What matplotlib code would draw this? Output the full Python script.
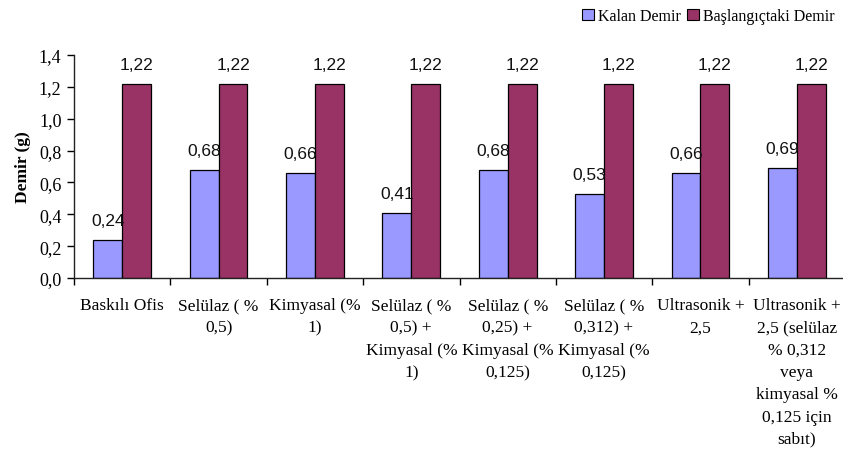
import matplotlib
matplotlib.use("Agg")
import matplotlib.pyplot as plt
from matplotlib.patches import Patch
from matplotlib.ticker import FuncFormatter, MultipleLocator
import numpy as np

categories = [
    "Baskılı Ofis",
    "Selülaz ( %\n0,5)",
    "Kimyasal (%\n1)",
    "Selülaz ( %\n0,5) +\nKimyasal (%\n1)",
    "Selülaz ( %\n0,25) +\nKimyasal (%\n0,125)",
    "Selülaz ( %\n0,312) +\nKimyasal (%\n0,125)",
    "Ultrasonik +\n2,5",
    "Ultrasonik +\n2,5 (selülaz\n% 0,312\nveya\nkimyasal %\n0,125 için\nsabıt)",
]
kalan = [0.24, 0.68, 0.66, 0.41, 0.68, 0.53, 0.66, 0.69]
baslangic = [1.22, 1.22, 1.22, 1.22, 1.22, 1.22, 1.22, 1.22]
series_names = ["Kalan Demir", "Başlangıçtaki Demir"]
y_label = "Demir (g)"

blue = "#9999FF"
purple = "#993366"
serif = ["Liberation Serif", "DejaVu Serif"]
sans = ["Liberation Sans", "DejaVu Sans"]

W, H = 843, 452
fig = plt.figure(figsize=(W / 100, H / 100), dpi=100)
ax = fig.add_axes([74 / W, 1 - 279 / H, 771 / W, 223 / H])

x = np.arange(len(categories))
bw = 0.3
ax.bar(x - bw / 2, kalan, bw, color=blue, edgecolor="black", linewidth=0.9, zorder=2)
ax.bar(x + bw / 2, baslangic, bw, color=purple, edgecolor="black", linewidth=0.9, zorder=2)

def comma(v, nd=2):
    return f"{v:.{nd}f}".replace(".", ",")

for xi, v in zip(x, kalan):
    ax.text(xi - bw / 2, v + 0.075, comma(v), ha="center", va="bottom",
            fontsize=12.5, family=sans, color="#111111", zorder=5)
for xi, v in zip(x, baslangic):
    ax.text(xi + bw / 2, v + 0.075, comma(v), ha="center", va="bottom",
            fontsize=12.5, family=sans, color="#111111", zorder=5)

ax.set_xlim(-0.5, len(categories) - 0.5)
ax.set_ylim(0, 1.4)
ax.yaxis.set_major_locator(MultipleLocator(0.2))
ax.yaxis.set_major_formatter(FuncFormatter(lambda v, p: comma(v, 1)))

ax.set_xticks(x)
ax.set_xticklabels(categories, fontsize=12.5, family=serif, linespacing=1.52, va="top")
ax.set_xticks(np.arange(len(categories) + 1) - 0.5, minor=True)
ax.tick_params(axis="x", which="major", length=0, pad=14)
ax.tick_params(axis="x", which="minor", length=5, width=1.0, direction="out")
ax.tick_params(axis="y", length=5, width=1.0, direction="out", pad=4)
for lab in ax.get_yticklabels():
    lab.set_family(serif)
    lab.set_fontsize(13)

for s in ("top", "right"):
    ax.spines[s].set_visible(False)
for s in ("left", "bottom"):
    ax.spines[s].set_linewidth(1.0)
    ax.spines[s].set_color("#222222")

ax.set_ylabel(y_label, fontsize=12.5, family=serif, fontweight="bold", labelpad=6)

handles = [Patch(facecolor=blue, edgecolor="black", linewidth=0.8),
           Patch(facecolor=purple, edgecolor="black", linewidth=0.8)]
fig.legend(handles, series_names, loc="upper right", bbox_to_anchor=(843 / W, 1 - 1 / H),
           ncol=2, frameon=False, prop={"family": serif, "size": 11.5},
           handlelength=0.75, handleheight=0.75, handletextpad=0.25, columnspacing=0.4,
           borderaxespad=0.1)

fig.savefig("out.png", dpi=100)
